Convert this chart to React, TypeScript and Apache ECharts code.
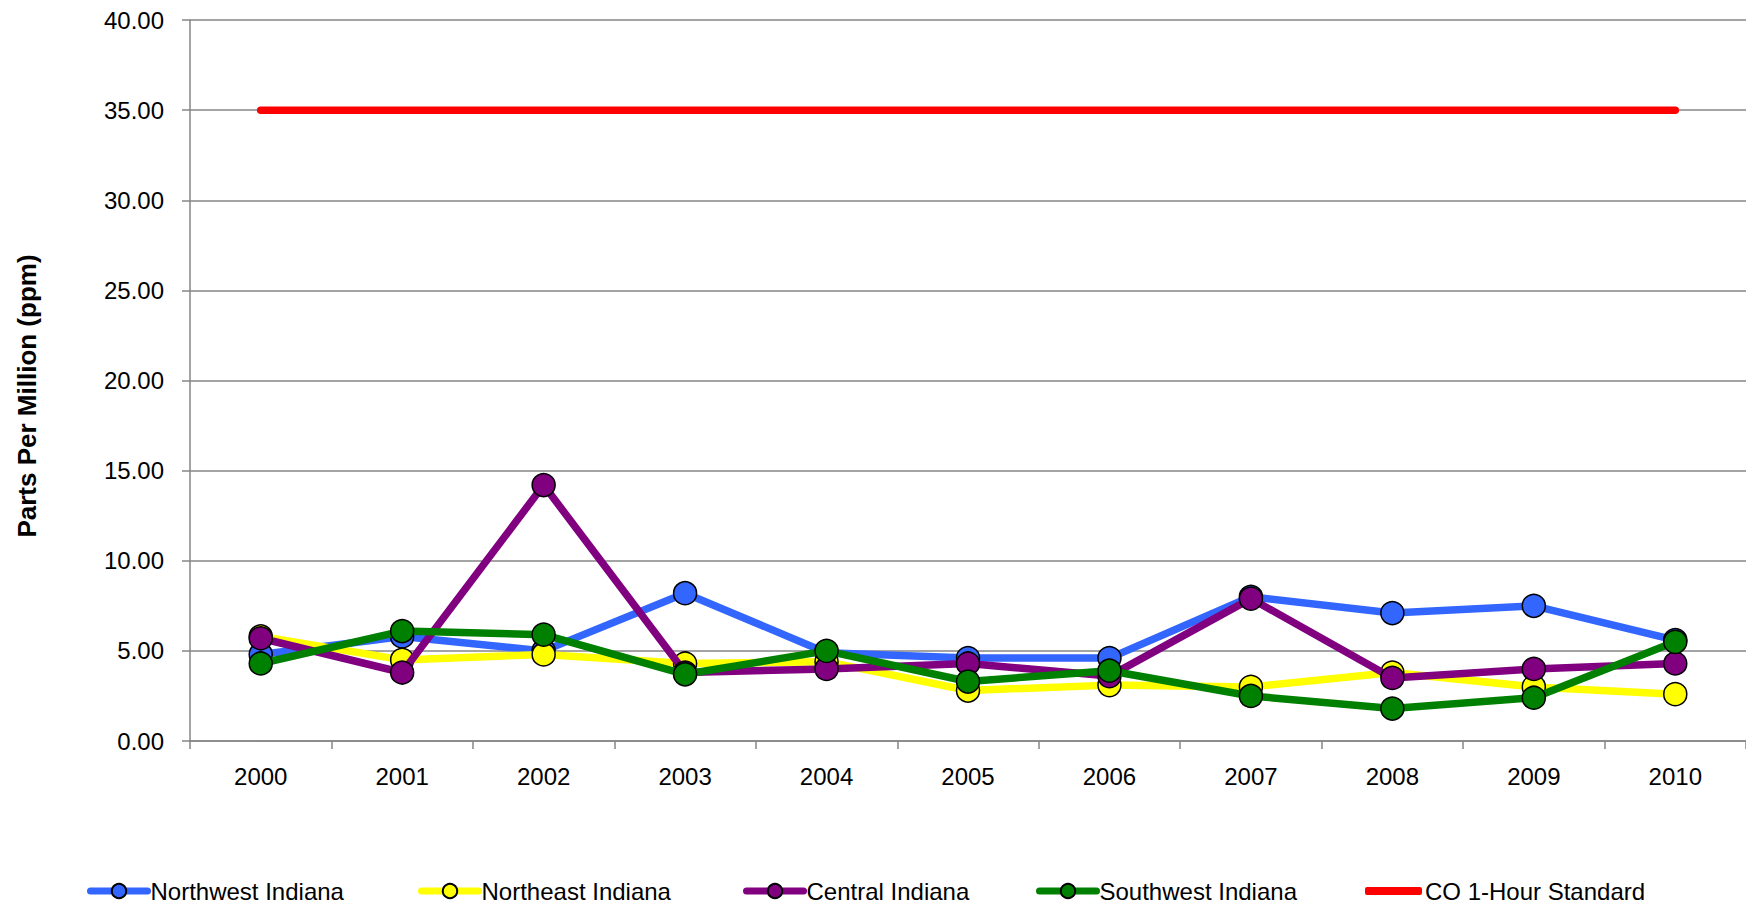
import React, { useEffect, useRef } from "react";
import * as echarts from "echarts";

const years = ["2000", "2001", "2002", "2003", "2004", "2005", "2006", "2007", "2008", "2009", "2010"];
const northwest = [4.8, 5.8, 5.0, 8.2, 4.9, 4.6, 4.6, 8.0, 7.1, 7.5, 5.6];
const northeast = [5.8, 4.5, 4.8, 4.3, 4.4, 2.8, 3.1, 3.0, 3.8, 3.0, 2.6];
const central = [5.7, 3.8, 14.2, 3.8, 4.0, 4.3, 3.6, 7.9, 3.5, 4.0, 4.3];
const southwest = [4.3, 6.1, 5.9, 3.7, 5.0, 3.3, 3.9, 2.5, 1.8, 2.4, 5.5];
const coStandard = [35, 35, 35, 35, 35, 35, 35, 35, 35, 35, 35];

const seriesNames = ["Northwest Indiana", "Northeast Indiana", "Central Indiana", "Southwest Indiana", "CO 1-Hour Standard"];
const seriesColors = ["#3366FF", "#FFFF00", "#800080", "#008000", "#FF0000"];
const seriesData = [northwest, northeast, central, southwest, coStandard];
const legendLefts = [87, 418, 743, 1036, 1365];

const FONT = "'Liberation Sans', Arial, sans-serif";

export default function App() {
  const ref = useRef<HTMLDivElement>(null);
  useEffect(() => {
    if (!ref.current) return;
    const chart = echarts.init(ref.current, null, { renderer: "svg" });
    const series = seriesNames.map((name, i) => {
      const isStd = i === 4;
      return {
        name,
        type: "line",
        data: seriesData[i],
        symbol: isStd ? "none" : "circle",
        symbolSize: 23,
        showSymbol: !isStd,
        lineStyle: { color: seriesColors[i], width: 7.5, cap: "round", join: "round" },
        itemStyle: { color: seriesColors[i], borderColor: "#000", borderWidth: 1.5 },
        emphasis: { disabled: true },
        z: 2 + i,
      };
    });
    const legends = seriesNames.map((name, i) => {
      const isStd = i === 4;
      return {
        data: isStd
          ? [{ name, icon: "roundRect", itemStyle: { color: seriesColors[i], borderWidth: 0 } }]
          : [name],
        left: legendLefts[i],
        top: 878,
        padding: 0,
        itemWidth: 57,
        itemHeight: isStd ? 8 : 18,
        itemGap: 0,
        lineStyle: { width: 7 },
        textStyle: {
          fontFamily: FONT,
          fontSize: 24,
          color: "#000",
          lineHeight: 26,
          padding: [0, 0, 0, -2],
        },
        selectedMode: false,
      };
    });
    chart.setOption({
      animation: false,
      backgroundColor: "#fff",
      grid: { left: 190, right: 0, top: 20, bottom: 165, containLabel: false },
      legend: legends,
      graphic: [
        {
          type: "text",
          x: 27,
          y: 396,
          rotation: Math.PI / 2,
          style: {
            text: "Parts Per Million (ppm)",
            fontFamily: FONT,
            fontSize: 26,
            fontWeight: "bold",
            fill: "#000",
            align: "center",
            verticalAlign: "middle",
          },
        },
      ],
      xAxis: {
        type: "category",
        data: years,
        boundaryGap: true,
        axisLine: { lineStyle: { color: "#868686", width: 1.5 } },
        axisTick: { show: true, length: 8, alignWithLabel: false, lineStyle: { color: "#868686", width: 1.5 } },
        axisLabel: { fontFamily: FONT, fontSize: 24, color: "#000", margin: 23 },
        splitLine: { show: false },
      },
      yAxis: {
        type: "value",
        min: 0,
        max: 40,
        interval: 5,
        axisLine: { show: true, lineStyle: { color: "#868686", width: 1.5 } },
        axisTick: { show: true, length: 8, lineStyle: { color: "#868686", width: 1.5 } },
        axisLabel: {
          fontFamily: FONT,
          fontSize: 24,
          color: "#000",
          margin: 26,
          formatter: (v: number) => v.toFixed(2),
        },
        splitLine: { show: true, lineStyle: { color: "#868686", width: 1.5 } },
      },
      series,
    });
    return () => chart.dispose();
  }, []);
  return (
    <div
      ref={ref}
      style={{ position: "fixed", left: 0, top: 0, width: 1746, height: 906, background: "#fff" }}
    />
  );
}
